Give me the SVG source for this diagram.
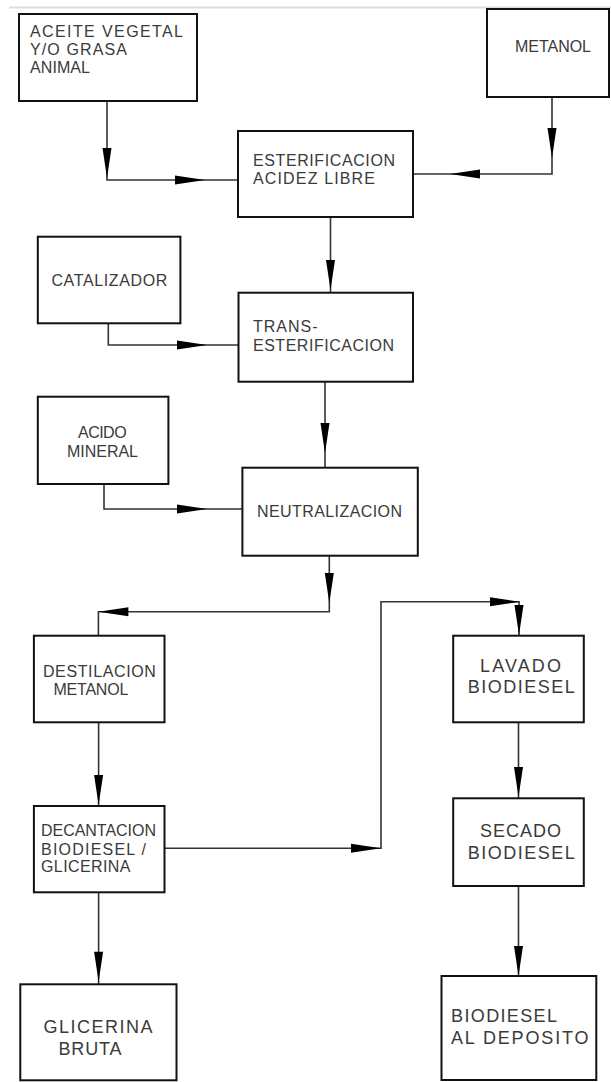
<svg xmlns="http://www.w3.org/2000/svg" width="611" height="1082" viewBox="0 0 611 1082">
<style>
.box{fill:#fff;stroke:#111;stroke-width:2}
.t{font-family:"Liberation Sans",Arial,sans-serif;font-size:16px;fill:#3a3a3a}
.tl{font-size:18px}
.c{fill:none;stroke:#333;stroke-width:1.6}
.ah{fill:#000}
</style>
<defs>
<path id="ah" d="M0,0 L-30,-4.5 L-30,4.5 Z"/>
</defs>
<rect width="611" height="1082" fill="#fff"/>
<line x1="9" y1="7.5" x2="611" y2="7.5" stroke="#ddd" stroke-width="2"/>

<g id="connectors">
<path class="c" d="M107,101 V180 H238"/>
<path class="c" d="M552,97 V174 H413"/>
<path class="c" d="M330.5,217 V292.7"/>
<path class="c" d="M108.3,323.3 V345 H238.5"/>
<path class="c" d="M325,381.7 V467.7"/>
<path class="c" d="M104,484 V509 H242.4"/>
<path class="c" d="M329.3,555.7 V611.7 H98.4 V635.7"/>
<path class="c" d="M164.5,848.3 H381 V601.7 H519 V635.7"/>
<path class="c" d="M98.6,722.3 V806"/>
<path class="c" d="M518.5,722.3 V798.3"/>
<path class="c" d="M98.6,892.3 V984.3"/>
<path class="c" d="M518.5,886 V976"/>
<g class="ah">
<use href="#ah" transform="translate(107,178) rotate(90)"/>
<use href="#ah" transform="translate(205,180)"/>
<use href="#ah" transform="translate(552,158) rotate(90)"/>
<use href="#ah" transform="translate(450,174) rotate(180)"/>
<use href="#ah" transform="translate(330.5,290) rotate(90)"/>
<use href="#ah" transform="translate(207,345)"/>
<use href="#ah" transform="translate(325,453) rotate(90)"/>
<use href="#ah" transform="translate(207,509)"/>
<use href="#ah" transform="translate(329.3,603) rotate(90)"/>
<use href="#ah" transform="translate(98.4,611.7) rotate(180)"/>
<use href="#ah" transform="translate(520,601.7)"/>
<use href="#ah" transform="translate(519,635) rotate(90)"/>
<use href="#ah" transform="translate(98.6,805) rotate(90)"/>
<use href="#ah" transform="translate(518.5,797) rotate(90)"/>
<use href="#ah" transform="translate(381,848.3)"/>
<use href="#ah" transform="translate(98.6,981.7) rotate(90)"/>
<use href="#ah" transform="translate(518.5,976) rotate(90)"/>
</g>
</g>

<g id="aceite">
<rect class="box" x="19" y="14" width="178" height="87"/>
<text class="t" x="30" y="37" textLength="153" lengthAdjust="spacing">ACEITE VEGETAL</text>
<text class="t" x="30" y="55" textLength="97" lengthAdjust="spacing">Y/O GRASA</text>
<text class="t" x="30" y="73" textLength="60" lengthAdjust="spacing">ANIMAL</text>
</g>
<g id="metanol">
<rect class="box" x="487" y="9" width="122" height="88"/>
<text class="t" x="515" y="52" textLength="76" lengthAdjust="spacing">METANOL</text>
</g>
<g id="esterificacion">
<rect class="box" x="238" y="131" width="175" height="86"/>
<text class="t" x="253" y="166" textLength="142" lengthAdjust="spacing">ESTERIFICACION</text>
<text class="t" x="253" y="184" textLength="122" lengthAdjust="spacing">ACIDEZ LIBRE</text>
</g>
<g id="catalizador">
<rect class="box" x="37.8" y="236.7" width="142.6" height="86.6"/>
<text class="t" x="51.4" y="286" textLength="116" lengthAdjust="spacing">CATALIZADOR</text>
</g>
<g id="transesterificacion">
<rect class="box" x="238.5" y="292.7" width="174.5" height="89"/>
<text class="t" x="253" y="332" textLength="64.6" lengthAdjust="spacing">TRANS-</text>
<text class="t" x="253" y="351" textLength="141" lengthAdjust="spacing">ESTERIFICACION</text>
</g>
<g id="acido">
<rect class="box" x="37.8" y="396.7" width="130.6" height="87.3"/>
<text class="t" x="78" y="438" textLength="48.6" lengthAdjust="spacing">ACIDO</text>
<text class="t" x="67" y="457" textLength="71" lengthAdjust="spacing">MINERAL</text>
</g>
<g id="neutralizacion">
<rect class="box" x="242.4" y="467.7" width="175.4" height="88"/>
<text class="t" x="257" y="516.7" textLength="145" lengthAdjust="spacing">NEUTRALIZACION</text>
</g>
<g id="destilacion">
<rect class="box" x="33.9" y="635.7" width="130.6" height="86.6"/>
<text class="t" x="42.9" y="676.7" textLength="113" lengthAdjust="spacing">DESTILACION</text>
<text class="t" x="53.4" y="695.3" textLength="75" lengthAdjust="spacing">METANOL</text>
</g>
<g id="lavado">
<rect class="box" x="453.2" y="635.7" width="130.6" height="86.6"/>
<text class="t tl" x="480" y="671.7" textLength="81" lengthAdjust="spacing">LAVADO</text>
<text class="t tl" x="467.7" y="693.3" textLength="107" lengthAdjust="spacing">BIODIESEL</text>
</g>
<g id="decantacion">
<rect class="box" x="33.9" y="806" width="130.6" height="86.3"/>
<text class="t" x="41" y="836" textLength="115" lengthAdjust="spacing">DECANTACION</text>
<text class="t" x="41" y="855" textLength="105" lengthAdjust="spacing">BIODIESEL /</text>
<text class="t" x="41" y="871.7" textLength="89.5" lengthAdjust="spacing">GLICERINA</text>
</g>
<g id="secado">
<rect class="box" x="453.2" y="798.3" width="130.6" height="87.7"/>
<text class="t tl" x="480" y="837" textLength="81" lengthAdjust="spacing">SECADO</text>
<text class="t tl" x="467.7" y="859.3" textLength="107" lengthAdjust="spacing">BIODIESEL</text>
</g>
<g id="glicerina">
<rect class="box" x="20.3" y="984.3" width="156.2" height="96"/>
<text class="t tl" x="43.6" y="1033.3" textLength="109" lengthAdjust="spacing">GLICERINA</text>
<text class="t tl" x="58.5" y="1055" textLength="63" lengthAdjust="spacing">BRUTA</text>
</g>
<g id="deposito">
<rect class="box" x="441.5" y="976" width="154.8" height="104"/>
<text class="t tl" x="451" y="1021.7" textLength="106" lengthAdjust="spacing">BIODIESEL</text>
<text class="t tl" x="451" y="1044" textLength="137.5" lengthAdjust="spacing">AL DEPOSITO</text>
</g>
</svg>
